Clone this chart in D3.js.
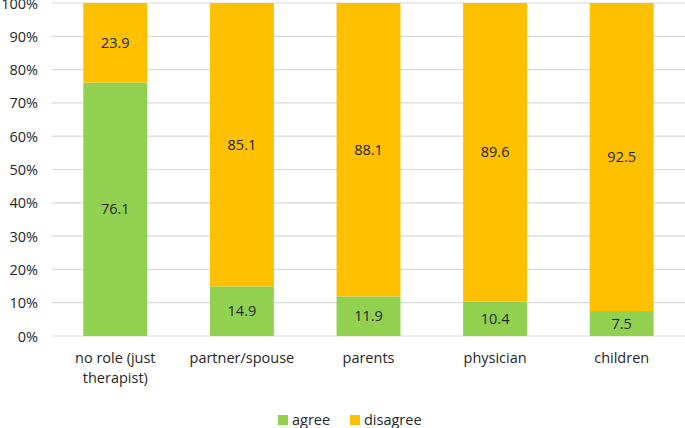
<!DOCTYPE html>
<html><head><meta charset="utf-8">
<script src="https://cdn.jsdelivr.net/npm/d3@7"></script>
<style>body{margin:0;background:#fff}svg{display:block}text{font-family:"Open Sans",sans-serif;fill:#262626}</style>
</head><body>
<svg id="c" width="685" height="428"></svg>
<script>
const categories = ["no role (just therapist)", "partner/spouse", "parents", "physician", "children"];
const categoryLines = [["no role (just", "therapist)"], ["partner/spouse"], ["parents"], ["physician"], ["children"]];
const agree = [76.1, 14.9, 11.9, 10.4, 7.5];
const disagree = [23.9, 85.1, 88.1, 89.6, 92.5];
const seriesNames = ["agree", "disagree"];
const seriesColors = ["#92D050", "#FFC000"];
const yTicks = [0, 10, 20, 30, 40, 50, 60, 70, 80, 90, 100];

const svg = d3.select("#c");
const x = d3.scaleBand().domain(categories).range([52, 685]).paddingInner(0.495).paddingOuter(0.2475);
const y = d3.scaleLinear().domain([0, 100]).range([336, 3]);

svg.append("g").selectAll("line").data(yTicks).join("line")
  .attr("x1", 52).attr("x2", 685).attr("y1", d => y(d)).attr("y2", d => y(d))
  .attr("stroke", "#d9d9d9").attr("stroke-width", 1.2);

const yAxis = d3.axisLeft(y).tickValues(yTicks).tickFormat(d => d + "%").tickSize(0).tickPadding(0);
const ga = svg.append("g").attr("transform", "translate(38,0)").call(yAxis);
ga.select(".domain").remove();
ga.selectAll("text").style("font-size", "14.5px").attr("fill", "#262626").attr("dy", "0.35em");

const rows = categories.map((c, i) => ({cat: c, agree: agree[i], disagree: disagree[i]}));
const stack = d3.stack().keys(seriesNames)(rows);
const color = d3.scaleOrdinal().domain(seriesNames).range(seriesColors);

stack.forEach(layer => {
  const g = svg.append("g");
  g.selectAll("rect").data(layer).join("rect")
    .attr("x", d => x(d.data.cat)).attr("width", x.bandwidth())
    .attr("y", d => y(d[1])).attr("height", d => y(d[0]) - y(d[1]))
    .attr("fill", color(layer.key));
  g.selectAll("text").data(layer).join("text")
    .attr("x", d => x(d.data.cat) + x.bandwidth() / 2)
    .attr("y", d => (y(d[0]) + y(d[1])) / 2)
    .attr("text-anchor", "middle").attr("dy", "0.35em")
    .style("font-size", "14.5px")
    .text(d => d.data[layer.key].toFixed(1));
});

const cl = svg.append("g").selectAll("text").data(categories).join("text")
  .attr("x", d => x(d) + x.bandwidth() / 2).attr("y", 363)
  .attr("text-anchor", "middle").style("font-size", "14.5px");
cl.each(function(d, i) {
  const t = d3.select(this);
  categoryLines[i].forEach((ln, j) => {
    t.append("tspan").attr("x", x(d) + x.bandwidth() / 2).attr("dy", j === 0 ? 0 : 20).text(ln);
  });
});

const legendX = [278, 350];
const lg = svg.append("g").selectAll("g").data(seriesNames).join("g")
  .attr("transform", (d, i) => `translate(${legendX[i]},415)`);
lg.append("rect").attr("width", 10).attr("height", 10).attr("fill", d => color(d));
lg.append("text").attr("x", 14).attr("y", 5).attr("dy", "0.35em").style("font-size", "14.5px").text(d => d);
</script>
</body></html>
